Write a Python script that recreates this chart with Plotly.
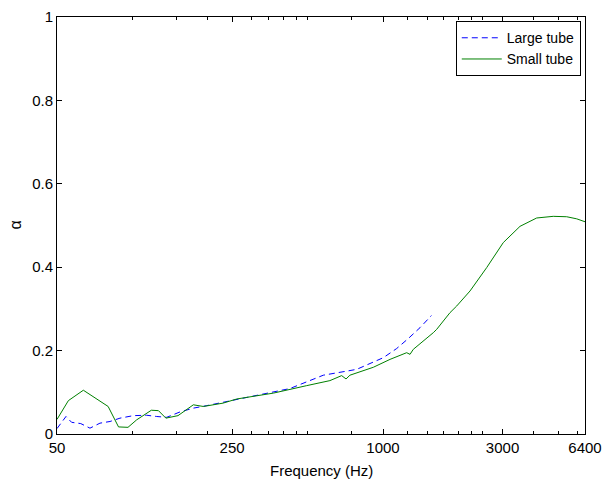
import plotly.graph_objects as go

# Large tube (dashed blue)
large_freq = [50, 54.3, 57.2, 62.2, 67.7, 74.2, 81.4, 89.2, 100.8, 114, 125, 137, 155, 175, 198, 230, 252,
              269, 425, 578, 785, 1003, 1134, 1262, 1405, 1560]
large_alpha = [0.013, 0.042, 0.028, 0.025, 0.014, 0.026, 0.030, 0.038, 0.044, 0.045, 0.042, 0.040, 0.053, 0.062,
               0.068, 0.076, 0.081, 0.086, 0.109, 0.141, 0.155, 0.183, 0.205, 0.229, 0.255, 0.284]

# Small tube (solid green)
small_freq = [50, 55.5, 63.7, 80, 88, 96, 104, 119, 127, 136, 152, 175, 192, 230, 261, 293,
              365, 496, 614, 684, 712, 738, 915, 1067, 1243, 1282, 1321, 1588, 1638, 1851, 1969,
              2225, 2593, 3020, 3522, 4105, 4780, 5409, 5931, 6400]
small_alpha = [0.035, 0.080, 0.105, 0.066, 0.017, 0.016, 0.034, 0.057, 0.056, 0.038, 0.044, 0.070, 0.066,
               0.074, 0.084, 0.089, 0.098, 0.116, 0.128, 0.140, 0.132, 0.141, 0.160, 0.179, 0.195, 0.191,
               0.203, 0.243, 0.251, 0.291, 0.307, 0.343, 0.399, 0.459, 0.498, 0.518, 0.522, 0.521,
               0.516, 0.509]

x_tickvals = [50, 250, 1000, 3000, 6400]
x_ticktext = ["50", "250", "1000", "3000", "6400"]
x_minor_ticks = [100, 150, 200, 300, 350, 400, 450, 500, 750, 1250, 1500, 1750, 2000, 2250, 2500,
                 4000, 5000, 6000]
y_tickvals = [0, 0.2, 0.4, 0.6, 0.8, 1]
y_ticktext = ["0", "0.2", "0.4", "0.6", "0.8", "1"]
x_title = "Frequency (Hz)"
y_title = "α"

FONT = "Liberation Sans, Arial, Helvetica, sans-serif"

fig = go.Figure()
fig.add_trace(go.Scatter(x=large_freq, y=large_alpha, mode="lines", name="Large tube",
                         line=dict(color="#0000ff", width=1, dash="6px,4px")))
fig.add_trace(go.Scatter(x=small_freq, y=small_alpha, mode="lines", name="Small tube",
                         line=dict(color="#008000", width=1)))

fig.update_layout(
    width=603, height=480,
    margin=dict(l=57, r=18, t=17, b=46),
    paper_bgcolor="white", plot_bgcolor="white",
    font=dict(family=FONT, size=15, color="black"),
    showlegend=True,
    legend=dict(x=0.992, y=0.99, xanchor="right", yanchor="top",
                bordercolor="black", borderwidth=1, bgcolor="white",
                font=dict(family=FONT, size=14), tracegroupgap=0,
                itemwidth=40),
    xaxis=dict(type="log", range=[1.69897, 3.80618], tickmode="array",
               tickvals=x_tickvals, ticktext=x_ticktext, automargin=False,
               ticks="inside", ticklen=5, tickcolor="black", tickwidth=1,
               showline=True, linecolor="black", linewidth=1, mirror="ticks",
               showgrid=False, zeroline=False,
               minor=dict(tickvals=x_minor_ticks, ticks="inside", ticklen=3,
                          tickcolor="black", showgrid=False),
               tickfont=dict(size=15)),
    yaxis=dict(range=[0, 1], tickmode="array", tickvals=y_tickvals, ticktext=y_ticktext,
               automargin=False,
               ticks="inside", ticklen=5, tickcolor="black", tickwidth=1,
               showline=True, linecolor="black", linewidth=1, mirror="ticks",
               showgrid=False, zeroline=False,
               tickfont=dict(size=15)),
    annotations=[
        dict(text=x_title, xref="paper", yref="paper", x=0.5, y=0, xanchor="center",
             yanchor="middle", yshift=-36, showarrow=False, font=dict(size=15)),
        dict(text=y_title, xref="paper", yref="paper", x=0, y=0.5, xanchor="center",
             yanchor="middle", xshift=-42, textangle=-90, showarrow=False, font=dict(size=16)),
    ],
)

fig.write_html("out.html", config={"displayModeBar": False},
               post_script="document.body.style.margin='0';document.body.style.overflow='hidden';")
